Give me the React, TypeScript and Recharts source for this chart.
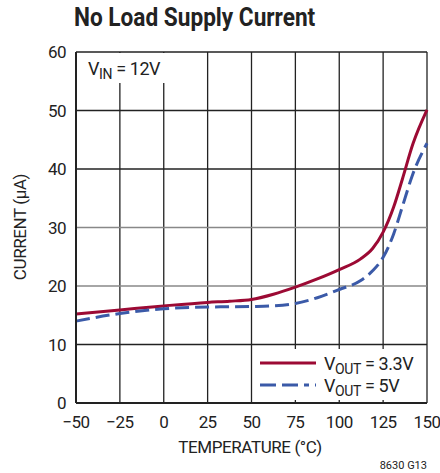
import { LineChart, Line, XAxis, YAxis, CartesianGrid } from "recharts";

const temps = [-50, -25, 0, 25, 37.5, 50, 62.5, 75, 87.5, 100, 112, 119, 125, 131, 136, 142, 150];
const vout33 = [15.2, 15.9, 16.6, 17.2, 17.4, 17.7, 18.6, 19.8, 21.2, 22.8, 24.6, 26.4, 29.2, 33.5, 38.3, 44.3, 50.1];
const vout5 = [14.0, 15.3, 16.1, 16.4, 16.45, 16.5, 16.6, 17.0, 18.0, 19.4, 20.9, 22.6, 24.9, 28.9, 33.6, 39.2, 44.4];
const xTicks = [-50, -25, 0, 25, 50, 75, 100, 125, 150];
const yTicks = [0, 10, 20, 30, 40, 50, 60];

const data = temps.map((t, i) => ({ t, a: vout33[i], b: vout5[i] }));

const FONT = "Roboto, sans-serif";
const RED = "#9c0a34";
const BLUE = "#3b5aa8";
const DASH = "14 6";
const tickStyle = { fill: "#222", fontSize: 17, fontFamily: FONT, letterSpacing: -0.6 } as any;

function LegendRow({ color, dash, v }: { color: string; dash?: string; v: string }) {
  return (
    <div style={{ display: "flex", alignItems: "center", height: 22 }}>
      <svg width={60} height={8}>
        <line x1={2} y1={4} x2={58} y2={4} stroke={color} strokeWidth={3} strokeDasharray={dash} />
      </svg>
      <span style={{ marginLeft: 6, fontSize: 18, color: "#222", letterSpacing: -0.4 }}>
        V<span style={{ fontSize: 14, position: "relative", top: 4 }}>OUT</span> = {v}
      </span>
    </div>
  );
}

export default function App() {
  return (
    <div
      style={{
        position: "absolute",
        left: 0,
        top: 0,
        width: 440,
        height: 473,
        background: "#fff",
        fontFamily: FONT,
      }}
    >
      <LineChart width={440} height={473} data={data} margin={{ top: 52, right: 13, bottom: 40, left: 0 }}>
        <CartesianGrid stroke="#222" strokeWidth={1.3} horizontalValues={[0, 10, 40, 50, 60]} />
        <CartesianGrid stroke="#888" strokeWidth={1.3} vertical={false} horizontalValues={[20, 30]} />
        <XAxis
          dataKey="t"
          type="number"
          domain={[-50, 150]}
          ticks={xTicks}
          tickFormatter={(v: number) => String(v).replace("-", "\u2212")}
          tick={tickStyle}
          tickLine={false}
          tickSize={0}
          tickMargin={13}
          axisLine={{ stroke: "#222", strokeWidth: 2 }}
          height={30}
        />
        <YAxis
          type="number"
          domain={[0, 60]}
          ticks={yTicks}
          tick={tickStyle}
          tickLine={false}
          tickSize={0}
          tickMargin={10}
          axisLine={{ stroke: "#222", strokeWidth: 2 }}
          width={76}
        />
        <Line type="monotone" dataKey="a" stroke={RED} strokeWidth={3} dot={false} isAnimationActive={false} />
        <Line type="monotone" dataKey="b" stroke={BLUE} strokeWidth={3} strokeDasharray={DASH} dot={false} isAnimationActive={false} />
      </LineChart>
      <div style={{ position: "absolute", left: 258, top: 349, width: 166, height: 48, background: "#fff", paddingTop: 3 }}>
        <LegendRow color={RED} v="3.3V" />
        <LegendRow color={BLUE} dash="16 6 16 6 5 6" v="5V" />
      </div>
      <div
        style={{
          position: "absolute",
          left: 74,
          top: 2,
          fontSize: 26,
          fontWeight: "bold",
          color: "#222",
          whiteSpace: "nowrap",
          transform: "scaleX(0.87)",
          transformOrigin: "left top",
        }}
      >
        No Load Supply Current
      </div>
      <div style={{ position: "absolute", left: 77, top: 53, width: 97, height: 30, background: "#fff" }}>
        <span style={{ position: "absolute", left: 11, top: 5, fontSize: 18, color: "#222", whiteSpace: "nowrap", letterSpacing: -0.4 }}>
          V<span style={{ fontSize: 14, position: "relative", top: 4 }}>IN</span> = 12V
        </span>
      </div>
      <div
        style={{
          position: "absolute",
          left: 20,
          top: 227,
          transform: "translate(-50%, -50%) rotate(-90deg)",
          fontSize: 17,
          color: "#222",
          whiteSpace: "nowrap",
          letterSpacing: -0.4,
        }}
      >
        CURRENT (μA)
      </div>
      <div
        style={{
          position: "absolute",
          left: 250,
          top: 437,
          transform: "translateX(-50%)",
          fontSize: 17,
          color: "#222",
          whiteSpace: "nowrap",
          letterSpacing: -0.4,
        }}
      >
        TEMPERATURE (°C)
      </div>
      <div style={{ position: "absolute", right: 13, top: 459, fontSize: 11, color: "#222", whiteSpace: "nowrap" }}>
        8630 G13
      </div>
    </div>
  );
}
